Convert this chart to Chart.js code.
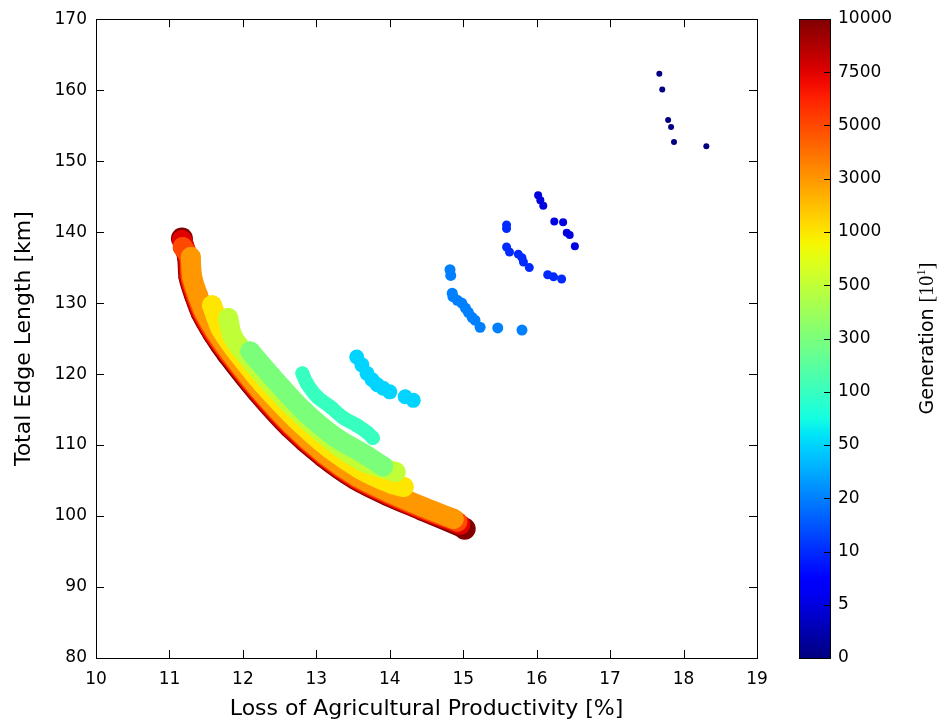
<!DOCTYPE html>
<html><head><meta charset="utf-8">
<script src="https://cdn.jsdelivr.net/npm/chart.js@4.4.0/dist/chart.umd.min.js"></script>
<style>
html,body{margin:0;padding:0;background:#fff;}
#wrap{position:relative;width:940px;height:723px;overflow:hidden;}
#main{position:absolute;left:0;top:0;width:940px;height:723px;}
#cbar{position:absolute;left:780px;top:0;width:160px;height:723px;}
</style></head><body>
<div id="wrap">
<canvas id="main" width="940" height="723"></canvas>
<canvas id="cbar" width="160" height="723"></canvas>
</div>
<script>
// ---- data ----
const generations = [0, 5, 10, 20, 50, 100, 300, 500, 1000, 3000, 5000, 7500, 10000];
const xTicks = [10, 11, 12, 13, 14, 15, 16, 17, 18, 19];
const yTicks = [80, 90, 100, 110, 120, 130, 140, 150, 160, 170];

const gen0 = [[17.67,162.3],[17.71,160.1],[17.79,155.8],[17.83,154.8],[17.87,152.7],[18.31,152.1]];
const gen5 = [[16.02,145.2],[16.05,144.5],[16.09,143.7],[16.24,141.5],[16.36,141.4],[16.41,139.9],[16.45,139.6],[16.52,138.0]];
const gen10 = [[15.59,141.0],[15.59,140.5],[15.59,137.9],[15.63,137.2],[15.75,136.9],[15.80,136.4],[15.82,135.8],[15.90,135.0],[16.15,134.0],[16.23,133.7],[16.34,133.4]];
const gen20 = [[14.82,134.7],[14.83,133.9],[14.85,131.4],[14.86,130.9],[14.92,130.4],[14.98,130.0],[15.03,129.3],[15.07,128.7],[15.12,128.0],[15.16,127.6],[15.23,126.6],[15.47,126.5],[15.80,126.2]];
const gen50 = [[13.55,122.4],[13.62,121.3],[13.69,120.1],[13.76,119.2],[13.83,118.5],[13.91,118.0],[14.00,117.5],[14.21,116.8],[14.32,116.3]];
const gen100 = [[12.81,120.1],[12.87,118.7],[13.01,116.8],[13.19,115.4],[13.36,113.9],[13.55,112.8],[13.69,111.8],[13.77,111.0]];
const gen300 = [[12.10,123.2],[12.39,119.7],[12.82,114.9],[13.26,111.1],[13.69,108.5],[13.91,107.0]];
const gen500 = [[11.80,127.9],[11.85,125.6],[11.95,123.9],[12.34,119.1],[12.78,114.4],[13.22,110.5],[13.65,107.6],[14.08,106.2]];
const gen1000 = [[11.58,129.7],[11.70,126.4],[11.89,123.5],[12.28,118.5],[12.72,113.7],[13.17,109.6],[13.60,106.6],[14.03,104.5],[14.19,104.1]];
const gen3000 = [[11.29,136.5],[11.31,133.7],[11.39,131.05],[11.48,128.7],[11.64,125.85],[11.83,123.05],[12.23,117.8],[12.67,112.85],[13.12,108.7],[13.56,105.55],[14.00,103.3],[14.45,101.3],[14.87,99.6]];
const gen5000 = [[11.18,137.9],[11.27,136.47],[11.29,133.67],[11.37,131.0],[11.46,128.63],[11.62,125.75],[11.81,122.93],[12.22,117.65],[12.66,112.69],[13.11,108.53],[13.55,105.37],[13.99,103.11],[14.44,101.11],[14.92,99.2]];
const gen7500 = [[11.17,138.9],[11.25,136.45],[11.27,133.64],[11.35,130.95],[11.44,128.55],[11.60,125.65],[11.80,122.81],[12.20,117.51],[12.64,112.53],[13.10,108.37],[13.54,105.2],[13.98,102.93],[14.43,100.92],[14.96,98.8]];
const gen10000 = [[11.17,139.1],[11.24,136.43],[11.26,133.62],[11.34,130.92],[11.43,128.5],[11.59,125.59],[11.78,122.73],[12.19,117.41],[12.63,112.43],[13.09,108.26],[13.53,105.08],[13.97,102.8],[14.43,100.79],[15.02,98.2]];

const seriesData = [gen0, gen5, gen10, gen20, gen50, gen100, gen300, gen500, gen1000, gen3000, gen5000, gen7500, gen10000];

// ---- styles ----
const radii = [3, 4, 4.5, 5.5, 7.5, 7, 10, 10, 10, 10, 10, 10, 10];
const capRadius = 11;
const joined = [false, false, false, false, false, true, true, true, true, true, true, true, true];

function jet(t) {
  const f = pts => { for (let i = 0; i < pts.length - 1; i++) { const [x0,y0] = pts[i], [x1,y1] = pts[i+1]; if (t <= x1) return y0 + (y1 - y0) * (t - x0) / (x1 - x0); } return pts[pts.length-1][1]; };
  const r = f([[0,0],[0.35,0],[0.66,1],[0.89,1],[1,0.5]]);
  const g = f([[0,0],[0.125,0],[0.375,1],[0.64,1],[0.91,0],[1,0]]);
  const b = f([[0,0.5],[0.11,1],[0.34,1],[0.65,0],[1,0]]);
  return `rgb(${Math.round(r*255)},${Math.round(g*255)},${Math.round(b*255)})`;
}

Chart.defaults.font.family = "'DejaVu Sans', sans-serif";
Chart.defaults.font.size = 17;
Chart.defaults.color = '#000';

const datasets = seriesData.map((pts, i) => {
  const c = jet(i / (generations.length - 1));
  const last = i === generations.length - 1;
  return {
    label: String(generations[i]),
    data: pts.map(p => ({x: p[0], y: p[1]})),
    showLine: joined[i],
    borderColor: c,
    borderWidth: joined[i] ? radii[i] * 2 : 0,
    borderCapStyle: 'round',
    borderJoinStyle: 'round',
    tension: 0.3,
    backgroundColor: c,
    pointBackgroundColor: c,
    pointBorderWidth: 0,
    pointRadius: last ? pts.map((p, k) => (k === 0 || k === pts.length - 1) ? capRadius : radii[i]) : radii[i],
    pointHoverRadius: radii[i]
  };
});

const framePlugin = {
  id: 'frame',
  afterDraw(chart) {
    const {ctx, chartArea: a, scales: {x, y}} = chart;
    ctx.save();
    ctx.strokeStyle = '#000';
    ctx.lineWidth = 1;
    ctx.beginPath();
    xTicks.forEach(v => {
      const px = Math.round(x.getPixelForValue(v)) + 0.5;
      ctx.moveTo(px, a.bottom); ctx.lineTo(px, a.bottom - 8);
      ctx.moveTo(px, a.top); ctx.lineTo(px, a.top + 8);
    });
    yTicks.forEach(v => {
      const py = Math.round(y.getPixelForValue(v)) + 0.5;
      ctx.moveTo(a.left, py); ctx.lineTo(a.left + 8, py);
      ctx.moveTo(a.right, py); ctx.lineTo(a.right - 8, py);
    });
    ctx.stroke();
    ctx.strokeRect(Math.round(a.left) + 0.5, Math.round(a.top) + 0.5, Math.round(a.right - a.left), Math.round(a.bottom - a.top));
    ctx.restore();
  }
};

new Chart(document.getElementById('main'), {
  type: 'scatter',
  data: {datasets},
  options: {
    responsive: false,
    animation: false,
    events: [],
    layout: {padding: {top: 19, right: 183, left: 0, bottom: 0}},
    plugins: {legend: {display: false}, tooltip: {enabled: false}},
    scales: {
      x: {
        type: 'linear', min: 10, max: 19,
        afterBuildTicks: s => { s.ticks = xTicks.map(v => ({value: v})); },
        afterFit: s => { s.height = 65; },
        grid: {display: false, drawTicks: false},
        border: {display: false},
        ticks: {padding: 11, maxRotation: 0, autoSkip: false},
        title: {display: true, text: 'Loss of Agricultural Productivity [%]', font: {size: 22}, padding: {top: 0, bottom: 1}}
      },
      y: {
        type: 'linear', min: 80, max: 170,
        afterBuildTicks: s => { s.ticks = yTicks.map(v => ({value: v})); },
        afterFit: s => { s.width = 96; },
        grid: {display: false, drawTicks: false},
        border: {display: false},
        ticks: {padding: 9, autoSkip: false},
        title: {display: true, text: 'Total Edge Length [km]', font: {size: 22}, padding: {top: 11, bottom: 0}}
      }
    }
  },
  plugins: [framePlugin]
});

// ---- colour bar ----
const cbarTickIdx = generations.map((g, i) => i);

const cbarPlugin = {
  id: 'cbarFrame',
  afterDraw(chart) {
    const {ctx, chartArea: a, scales: {y}} = chart;
    ctx.save();
    ctx.strokeStyle = '#000';
    ctx.lineWidth = 1;
    ctx.beginPath();
    cbarTickIdx.forEach(v => {
      const py = Math.round(y.getPixelForValue(v)) + 0.5;
      ctx.moveTo(a.right, py); ctx.lineTo(a.right - 6, py);
    });
    ctx.stroke();
    ctx.strokeRect(Math.round(a.left) + 0.5, Math.round(a.top) + 0.5, Math.round(a.right - a.left), Math.round(a.bottom - a.top));
    const cx = 148, cy = (a.top + a.bottom) / 2;
    ctx.translate(cx, cy);
    ctx.rotate(-Math.PI / 2);
    ctx.fillStyle = '#000';
    ctx.textBaseline = 'middle';
    const f1 = "19px 'DejaVu Sans'", f2 = "20px 'Liberation Serif'", f3 = "13px 'Liberation Serif'";
    const parts = [['Generation ', f1, 0], ['[10', f2, 0], ['1', f3, -6], [']', f2, 0]];
    let total = 0;
    parts.forEach(p => { ctx.font = p[1]; total += ctx.measureText(p[0]).width; });
    let xx = -total / 2;
    parts.forEach(p => { ctx.font = p[1]; ctx.fillText(p[0], xx, p[2]); xx += ctx.measureText(p[0]).width; });
    ctx.restore();
  }
};

new Chart(document.getElementById('cbar'), {
  type: 'bar',
  data: {
    labels: [''],
    datasets: [{
      data: [[0, generations.length - 1]],
      barPercentage: 1, categoryPercentage: 1,
      borderWidth: 0,
      backgroundColor: ctx => {
        const a = ctx.chart.chartArea;
        if (!a) return '#888';
        const gr = ctx.chart.ctx.createLinearGradient(0, a.bottom, 0, a.top);
        for (let k = 0; k <= 40; k++) gr.addColorStop(k / 40, jet(k / 40));
        return gr;
      }
    }]
  },
  options: {
    responsive: false,
    animation: false,
    events: [],
    layout: {padding: {top: 19, left: 19, right: 0, bottom: 65}},
    plugins: {legend: {display: false}, tooltip: {enabled: false}},
    scales: {
      x: {display: false},
      y: {
        type: 'linear', position: 'right', min: 0, max: generations.length - 1,
        afterBuildTicks: s => { s.ticks = cbarTickIdx.map(v => ({value: v})); },
        afterFit: s => { s.width = 110; },
        grid: {display: false, drawTicks: false},
        border: {display: false},
        ticks: {padding: 8, autoSkip: false, callback: v => String(generations[v])}
      }
    }
  },
  plugins: [cbarPlugin]
});
</script>
</body></html>
